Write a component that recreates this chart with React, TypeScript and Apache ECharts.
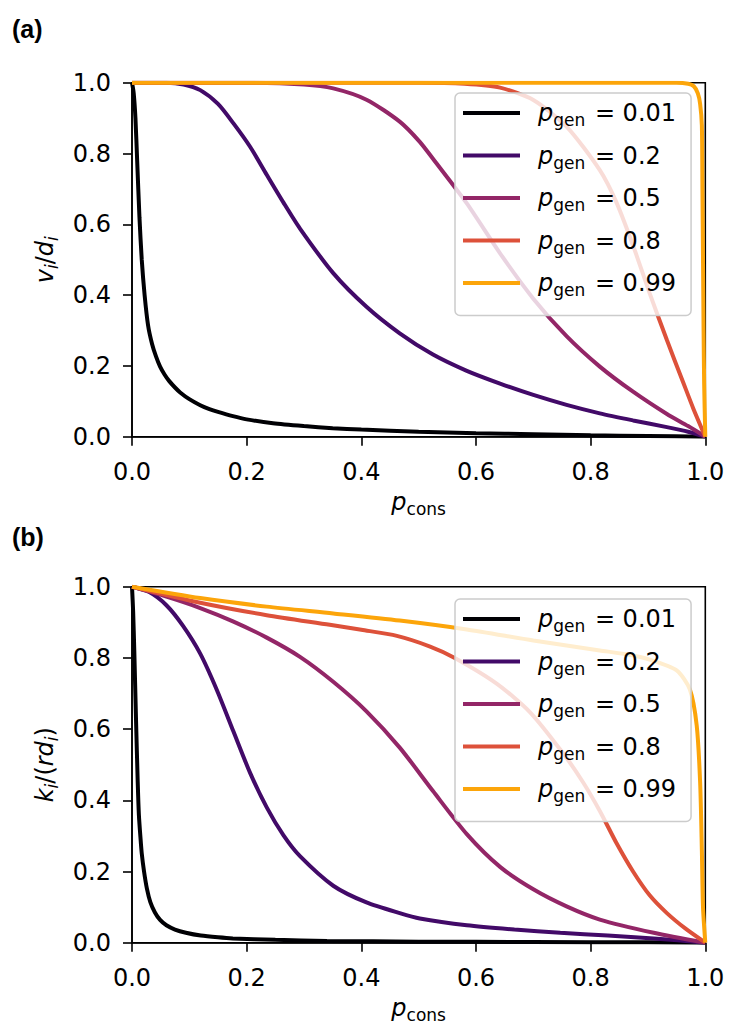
import { useEffect, useRef } from 'react'
import * as echarts from 'echarts'

// legend entries and colours (inferno)
const P_GEN = ['0.01', '0.2', '0.5', '0.8', '0.99']
const COLORS = ['#000004', '#420a68', '#932667', '#dd513a', '#fca50a']

// panel (a): v_i / d_i against p_cons
const vA_001 = [
  [0, 1], [0.003, 0.97], [0.006, 0.9], [0.009, 0.78], [0.013, 0.62], [0.017, 0.5],
  [0.022, 0.4], [0.028, 0.315], [0.035, 0.262], [0.042, 0.226], [0.049, 0.198],
  [0.057, 0.175], [0.065, 0.157], [0.075, 0.139], [0.084, 0.125], [0.1, 0.106],
  [0.119, 0.089], [0.135, 0.078], [0.15, 0.07], [0.176, 0.058], [0.2, 0.049],
  [0.246, 0.038], [0.3, 0.03], [0.35, 0.024], [0.4, 0.02], [0.5, 0.014], [0.6, 0.01],
  [0.7, 0.007], [0.8, 0.004], [0.9, 0.002], [1, 0],
]
const vA_02 = [
  [0, 1], [0.06, 1], [0.09, 0.995], [0.119, 0.979], [0.15, 0.94], [0.177, 0.885],
  [0.206, 0.819], [0.235, 0.74], [0.264, 0.662], [0.293, 0.588], [0.351, 0.462],
  [0.409, 0.367], [0.467, 0.292], [0.525, 0.232], [0.584, 0.186], [0.642, 0.15],
  [0.7, 0.118], [0.758, 0.09], [0.816, 0.066], [0.874, 0.046], [0.933, 0.027],
  [0.97, 0.014], [1, 0],
]
const vA_05 = [
  [0, 1], [0.2, 1], [0.3, 0.995], [0.351, 0.984], [0.409, 0.952], [0.467, 0.89],
  [0.502, 0.833], [0.525, 0.785], [0.584, 0.659], [0.642, 0.518], [0.7, 0.39],
  [0.758, 0.284], [0.816, 0.198], [0.874, 0.127], [0.933, 0.064], [0.97, 0.03], [1, 0],
]
const vA_08 = [
  [0, 1], [0.5, 1], [0.58, 0.997], [0.642, 0.986], [0.7, 0.951], [0.758, 0.876],
  [0.816, 0.753], [0.845, 0.662], [0.874, 0.54], [0.903, 0.405], [0.933, 0.273],
  [0.962, 0.151], [0.979, 0.08], [1, 0],
]
const vA_099 = [
  [0, 1], [0.95, 1], [0.97, 0.997], [0.98, 0.99], [0.987, 0.97], [0.991, 0.94],
  [0.994, 0.88], [0.995, 0.7], [0.996, 0.5], [0.997, 0.3], [0.998, 0.15], [1, 0],
]

// panel (b): k_i / (r d_i) against p_cons
const kB_001 = [
  [0, 1], [0.002, 0.93], [0.004, 0.82], [0.007, 0.627], [0.01, 0.45], [0.012, 0.36],
  [0.015, 0.29], [0.017, 0.251], [0.021, 0.2], [0.026, 0.152], [0.032, 0.114],
  [0.04, 0.085], [0.049, 0.064], [0.06, 0.049], [0.075, 0.037], [0.094, 0.028],
  [0.12, 0.02], [0.15, 0.015], [0.176, 0.012], [0.25, 0.008], [0.34, 0.005],
  [0.5, 0.003], [0.7, 0.002], [0.9, 0.001], [1, 0],
]
const kB_02 = [
  [0, 1], [0.03, 0.985], [0.06, 0.948], [0.089, 0.89], [0.119, 0.812], [0.148, 0.71],
  [0.177, 0.593], [0.206, 0.477], [0.235, 0.38], [0.264, 0.302], [0.293, 0.243],
  [0.351, 0.16], [0.409, 0.113], [0.467, 0.083], [0.502, 0.068], [0.584, 0.049],
  [0.667, 0.037], [0.747, 0.028], [0.83, 0.02], [0.91, 0.012], [1, 0],
]
const kB_05 = [
  [0, 1], [0.06, 0.972], [0.119, 0.94], [0.177, 0.902], [0.235, 0.857], [0.293, 0.803],
  [0.351, 0.733], [0.409, 0.65], [0.467, 0.548], [0.525, 0.426], [0.584, 0.305],
  [0.642, 0.213], [0.7, 0.15], [0.758, 0.102], [0.816, 0.065], [0.91, 0.028], [1, 0],
]
const kB_08 = [
  [0, 1], [0.119, 0.955], [0.235, 0.92], [0.345, 0.893], [0.4, 0.879], [0.462, 0.862],
  [0.52, 0.832], [0.563, 0.8], [0.636, 0.728], [0.694, 0.648], [0.752, 0.532],
  [0.787, 0.45], [0.816, 0.37], [0.845, 0.28], [0.874, 0.2], [0.903, 0.133],
  [0.933, 0.083], [0.965, 0.04], [1, 0],
]
const kB_099 = [
  [0, 1], [0.119, 0.968], [0.235, 0.944], [0.351, 0.925], [0.467, 0.905], [0.584, 0.88],
  [0.7, 0.849], [0.816, 0.821], [0.863, 0.81], [0.903, 0.795], [0.95, 0.765],
  [0.973, 0.712], [0.985, 0.61], [0.991, 0.45], [0.994, 0.26], [0.996, 0.1], [1, 0],
]

const PANEL_A = [vA_001, vA_02, vA_05, vA_08, vA_099]
const PANEL_B = [kB_001, kB_02, kB_05, kB_08, kB_099]

const FONT = 'DejaVu Sans'
const GRID_TOPS = [82.7, 586.7]
const GRID_HEIGHTS = [354, 356]
const LEGEND_TOPS = [93, 599]

const mathRich = {
  it: { fontFamily: FONT, fontSize: 24, fontStyle: 'italic', color: '#000' },
  rm: { fontFamily: FONT, fontSize: 24, color: '#000' },
  sub: { fontFamily: FONT, fontSize: 17, color: '#000', padding: [14, 0, 0, 0] },
  subi: { fontFamily: FONT, fontSize: 17, fontStyle: 'italic', color: '#000', padding: [14, 0, 0, 0] },
}

export default function App() {
  const chartRef = useRef<HTMLDivElement>(null)

  useEffect(() => {
    if (!chartRef.current) return
    document.body.style.margin = '0'
    const chart = echarts.init(chartRef.current, undefined, { renderer: 'svg' })

    const axisLineStyle = { color: '#000', width: 1.6 }

    const xAxes = [0, 1].map((gi) => ({
      type: 'value' as const,
      gridIndex: gi,
      min: 0,
      max: 1,
      interval: 0.2,
      axisLine: { onZero: false, lineStyle: axisLineStyle },
      axisTick: { length: 9, lineStyle: axisLineStyle },
      axisLabel: {
        margin: 23,
        color: '#000',
        fontSize: 24,
        fontFamily: FONT,
        formatter: (v: number) => v.toFixed(1),
      },
      splitLine: { show: false },
      name: '{it|p}{sub|cons}',
      nameLocation: 'middle' as const,
      nameGap: 50,
      nameTextStyle: { rich: mathRich },
    }))

    const yNames = ['{it|v}{subi|i}{rm|/}{it|d}{subi|i}', '{it|k}{subi|i}{rm|/(}{it|rd}{subi|i}{rm|)}']
    const yAxes = [0, 1].map((gi) => ({
      type: 'value' as const,
      gridIndex: gi,
      min: 0,
      max: 1,
      interval: 0.2,
      axisLine: { onZero: false, lineStyle: axisLineStyle },
      axisTick: { length: 9, lineStyle: axisLineStyle },
      axisLabel: {
        margin: 21,
        color: '#000',
        fontSize: 24,
        fontFamily: FONT,
        formatter: (v: number) => v.toFixed(1),
      },
      splitLine: { show: false },
      name: yNames[gi],
      nameLocation: 'middle' as const,
      nameRotate: 90,
      nameGap: 72,
      nameTextStyle: { rich: mathRich },
    }))

    const mkSeries = (panel: number[][][], gi: number) =>
      panel.map((d, k) => ({
        name: P_GEN[k],
        type: 'line' as const,
        xAxisIndex: gi,
        yAxisIndex: gi,
        data: d,
        symbol: 'none',
        smooth: 0.25,
        color: COLORS[k],
        lineStyle: { width: 4, color: COLORS[k] },
        clip: true,
      }))

    const legends = [0, 1].map((gi) => ({
      data: P_GEN,
      orient: 'vertical' as const,
      left: 455,
      top: LEGEND_TOPS[gi],
      icon: 'rect',
      itemWidth: 57,
      itemHeight: 4,
      itemGap: 15,
      padding: [8, 15, 17, 8],
      backgroundColor: 'rgba(255,255,255,0.8)',
      borderColor: '#cccccc',
      borderWidth: 1.5,
      borderRadius: 5,
      selectedMode: false,
      itemStyle: { borderWidth: 0 },
      formatter: (name: string) => `{p|p}{sub|gen}{rm| = ${name}}`,
      textStyle: {
        rich: {
          ...mathRich,
          p: { ...mathRich.it, padding: [0, 0, 0, 13] },
          sub: { ...mathRich.sub, padding: [14, 2, 0, 0] },
          rm: { ...mathRich.rm, padding: [0, 3, 0, 0] },
        },
      },
    }))

    const option: echarts.EChartsOption = {
      animation: false,
      backgroundColor: '#fff',
      grid: [0, 1].map((gi) => ({
        left: 132,
        top: GRID_TOPS[gi],
        width: 573.3,
        height: GRID_HEIGHTS[gi],
        show: true,
        borderColor: '#000',
        borderWidth: 1.6,
        backgroundColor: 'transparent',
      })),
      xAxis: xAxes,
      yAxis: yAxes,
      legend: legends,
      series: [...mkSeries(PANEL_A, 0), ...mkSeries(PANEL_B, 1)],
      graphic: [
        {
          type: 'text',
          left: 12,
          top: 16,
          style: { text: '(a)', fontFamily: 'Liberation Sans', fontWeight: 'bold', fontSize: 25, fill: '#000' },
        },
        {
          type: 'text',
          left: 12,
          top: 524,
          style: { text: '(b)', fontFamily: 'Liberation Sans', fontWeight: 'bold', fontSize: 25, fill: '#000' },
        },
      ],
    }

    chart.setOption(option)

    return () => {
      chart.dispose()
    }
  }, [])

  return <div ref={chartRef} style={{ width: '732px', height: '1034px' }} />
}
